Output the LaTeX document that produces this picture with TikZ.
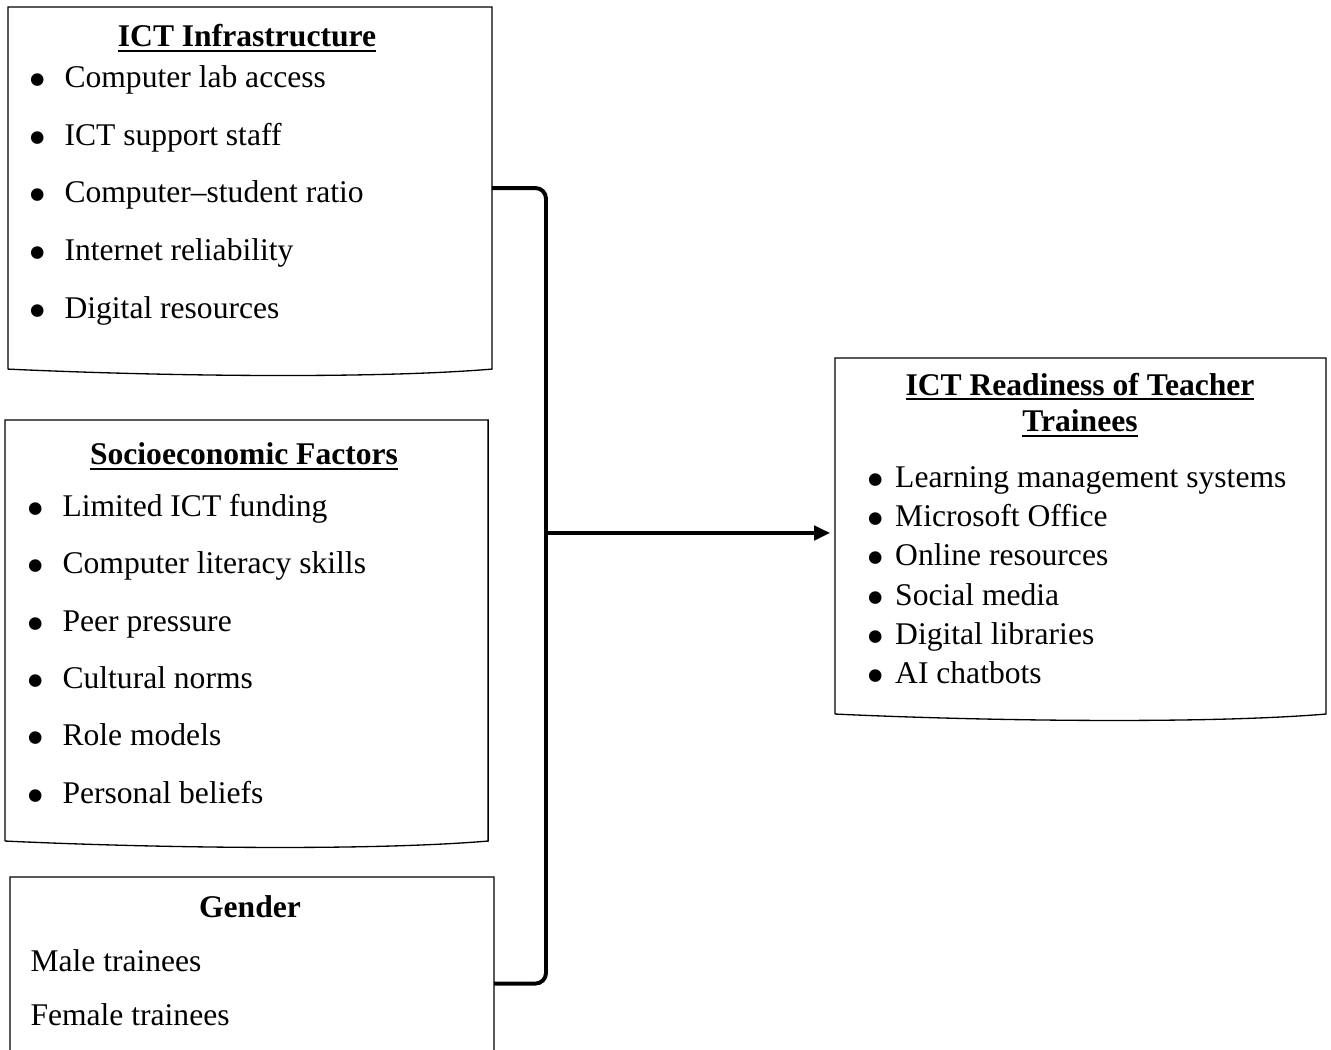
\documentclass[12pt,tikz,border=0pt]{standalone}
\usepackage{fontspec}
\setmainfont{Liberation Serif}
\usetikzlibrary{arrows.meta}

% list bullet, with the gap up to the text
\newcommand{\dotmark}[1][13.7pt]{\makebox[#1][l]{\raisebox{-3.7pt}{\fontsize{20}{20}\selectfont\textbullet}}}
% thick underline for the headings
\newsavebox{\ulsave}
\newcommand{\ulbox}[1]{\sbox{\ulsave}{#1}\rlap{\rule[-2.0pt]{\wd\ulsave}{0.9pt}}\usebox{\ulsave}}
% box with a wavy bottom edge
\newcommand{\docshape}[1]{%
  \draw[boxline] (#1.south west) -- (#1.north west) -- (#1.north east) -- (#1.south east)
    .. controls +(-120,10) and +(150,7) .. (#1.south west);}

\tikzset{
  boxline/.style={line width=0.5pt},
  docbox/.style={anchor=north west, inner sep=0pt},
  heading/.style={anchor=base, inner sep=0pt, font=\bfseries},
  item/.style={anchor=base west, inner sep=0pt},
  bracket/.style={line width=1.5pt, rounded corners=4pt},
  link/.style={line width=1.2pt, -{Triangle[length=6pt,width=5.5pt]}, shorten >=1.9pt}
}

\begin{document}
\begin{tikzpicture}[x=0.38pt, y=-0.38pt]
        \clip (0,0) rectangle (1331,1050);

        % ICT infrastructure
        \node[docbox, minimum width=183.5pt, minimum height=137.2pt] (infra) at (8,7) {};
        \docshape{infra}
        \node[heading] (infra-t) at (247,47) {\ulbox{ICT Infrastructure}};
        \node[item] (infra-1) at (28,88) {\dotmark Computer lab access};
        \node[item] (infra-2) at (28,146) {\dotmark ICT support staff};
        \node[item] (infra-3) at (28,203) {\dotmark Computer--student ratio};
        \node[item] (infra-4) at (28,261) {\dotmark Internet reliability};
        \node[item] (infra-5) at (28,319) {\dotmark Digital resources};

        % Socioeconomic factors
        \node[docbox, minimum width=183.2pt, minimum height=159.6pt] (socio) at (5,420) {};
        \docshape{socio}
        \node[heading] (socio-t) at (244,465) {\ulbox{Socioeconomic Factors}};
        \node[item] (socio-1) at (26,517) {\dotmark Limited ICT funding};
        \node[item] (socio-2) at (26,574) {\dotmark Computer literacy skills};
        \node[item] (socio-3) at (26,632) {\dotmark Peer pressure};
        \node[item] (socio-4) at (26,689) {\dotmark Cultural norms};
        \node[item] (socio-5) at (26,746) {\dotmark Role models};
        \node[item] (socio-6) at (26,804) {\dotmark Personal beliefs};

        % Gender
        \node[docbox, minimum width=183.5pt, minimum height=80.6pt] (gender) at (10,877) {};
        \docshape{gender}
        \node[heading] (gender-t) at (250,918) {Gender};
        \node[item] (gender-1) at (30,972) {Male trainees};
        \node[item] (gender-2) at (30,1026) {Female trainees};

        % ICT readiness
        \node[docbox, minimum width=186.2pt, minimum height=134.9pt] (ready) at (835,358) {};
        \docshape{ready}
        \node[heading, align=center, font=\bfseries\fontsize{12}{14}\selectfont] (ready-t) at (1080,432)
            {\ulbox{ICT Readiness of Teacher}\\\ulbox{Trainees}};
        \node[item] (ready-1) at (866,488) {\dotmark[10.9pt]Learning management systems};
        \node[item] (ready-2) at (866,527) {\dotmark[10.9pt]Microsoft Office};
        \node[item] (ready-3) at (866,566) {\dotmark[10.9pt]Online resources};
        \node[item] (ready-4) at (866,606) {\dotmark[10.9pt]Social media};
        \node[item] (ready-5) at (866,645) {\dotmark[10.9pt]Digital libraries};
        \node[item] (ready-6) at (866,684) {\dotmark[10.9pt]AI chatbots};

        % Bracket and arrow
        \coordinate (bar) at (546,533);
        \draw[bracket] (infra.east) -| (bar) |- (gender.east);
        \draw[link] (bar) -- (ready.west |- bar);

    \end{tikzpicture}
\end{document}
